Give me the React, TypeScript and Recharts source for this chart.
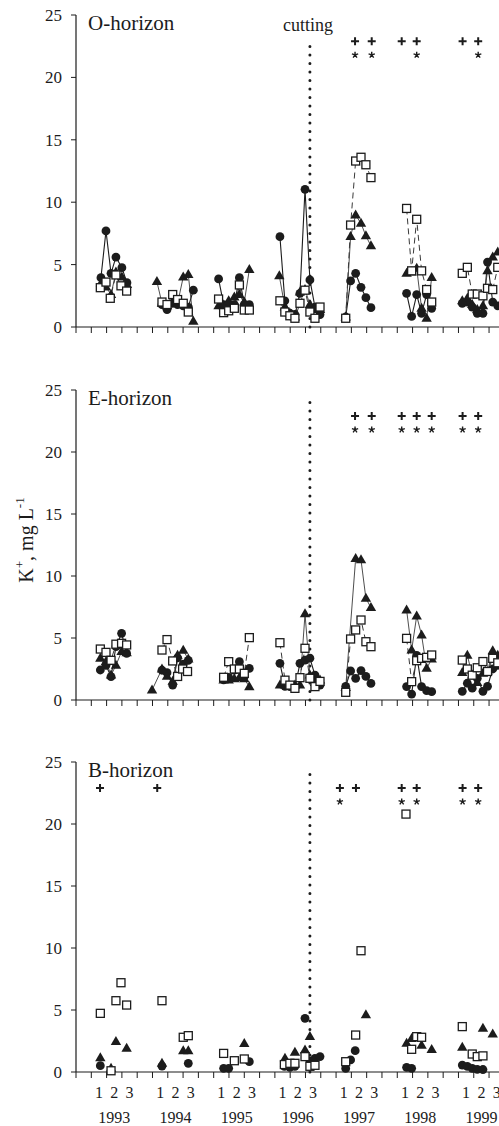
import React from 'react';
import { ComposedChart, Line, Scatter, XAxis, YAxis } from 'recharts';

type Pt = [number, number];

// x = position on the time axis, 4 steps per year starting at Jan 1993
const YEARS = [1993, 1994, 1995, 1996, 1997, 1998, 1999];
const PERIOD_LABELS = ['1', '2', '3'];
const Y_TICKS = [0, 5, 10, 15, 20, 25];
const X_MAX = 27.65;
const CUT_X = 15.29;

// ---- O-horizon ----
const O_CIRCLE: Pt[][] = [
  [[1.63, 3.95], [1.96, 7.7], [2.29, 4.3], [2.61, 5.6], [3.0, 4.75], [3.33, 3.55]],
  [[5.62, 1.8], [5.95, 1.4], [6.32, 1.9], [6.64, 1.8], [7.01, 1.7], [7.34, 1.6], [7.67, 2.95]],
  [[9.32, 3.85], [9.65, 1.8], [9.98, 1.6], [10.35, 1.8], [10.68, 3.95], [11.0, 1.8], [11.33, 1.8]],
  [[13.33, 7.24], [13.65, 2.1], [13.98, 1.1], [14.31, 1.0], [14.64, 2.7], [14.97, 11.03], [15.29, 3.77], [15.62, 1.6], [15.95, 1.0]],
  [[17.63, 0.8], [17.95, 3.69], [18.28, 4.3], [18.63, 3.18], [18.95, 2.35], [19.28, 1.55]],
  [[21.61, 2.7], [21.94, 0.85], [22.27, 2.6], [22.59, 1.1], [22.92, 2.6], [23.25, 1.5]],
  [[25.25, 1.9], [25.58, 2.0], [25.9, 1.6], [26.23, 1.1], [26.6, 1.1], [26.9, 5.2], [27.24, 2.0], [27.57, 1.7]],
];
const O_TRIANGLE: Pt[][] = [
  [[1.63, 3.5], [1.96, 3.2], [2.29, 2.6], [2.61, 4.4], [3.0, 4.0], [3.33, 3.4]],
  [[5.29, 3.63], [5.62, 1.9], [5.95, 1.7], [6.32, 2.0], [6.64, 1.9], [7.01, 4.0], [7.34, 4.2], [7.67, 0.45]],
  [[9.32, 1.7], [9.65, 1.7], [9.98, 2.1], [10.35, 2.4], [10.68, 2.6], [11.0, 2.0], [11.33, 4.6]],
  [[13.29, 4.1], [13.65, 1.6], [13.98, 1.1], [14.31, 0.8], [14.64, 2.8], [14.97, 3.0], [15.29, 1.8], [15.62, 1.4], [15.95, 1.4]],
  [[17.63, 0.8], [17.95, 7.24], [18.28, 8.97], [18.63, 8.3], [18.95, 7.3], [19.28, 6.5]],
  [[21.61, 4.3], [21.94, 4.4], [22.27, 4.7], [22.59, 1.5], [22.92, 0.7], [23.25, 3.95]],
  [[25.25, 2.1], [25.58, 2.3], [25.9, 1.8], [26.23, 1.4], [26.6, 1.7], [26.9, 4.5], [27.24, 5.6], [27.57, 6.0]],
];
const O_SQUARE: Pt[][] = [
  [[1.59, 3.15], [1.96, 3.6], [2.24, 2.3], [2.61, 4.17], [2.94, 3.3], [3.31, 2.88]],
  [[5.62, 2.0], [5.95, 1.8], [6.32, 2.6], [6.64, 2.2], [7.01, 1.9], [7.34, 1.2]],
  [[9.32, 2.24], [9.65, 1.15], [9.98, 1.3], [10.35, 1.5], [10.68, 3.37], [11.0, 1.36], [11.33, 1.36]],
  [[13.33, 2.1], [13.65, 1.2], [13.98, 0.9], [14.31, 0.7], [14.64, 1.9], [14.97, 2.95], [15.29, 1.2], [15.62, 0.7], [15.95, 1.6]],
  [[17.63, 0.7], [17.95, 8.17], [18.28, 13.3], [18.63, 13.6], [18.95, 13.0], [19.28, 11.97]],
  [[21.61, 9.5], [21.94, 4.5], [22.27, 8.63], [22.59, 4.5], [22.92, 3.0], [23.25, 2.0]],
  [[25.25, 4.3], [25.58, 4.78], [25.9, 2.64], [26.23, 2.64], [26.6, 2.5], [26.9, 3.1], [27.24, 3.0], [27.57, 4.78]],
];
const O_PLUS = [18.24, 19.33, 21.29, 22.27, 25.27, 26.29];
const O_STAR = [18.24, 19.33, 22.27, 26.29];

// ---- E-horizon ----
const E_CIRCLE: Pt[][] = [
  [[1.59, 2.42], [1.96, 2.8], [2.29, 1.88], [2.61, 4.3], [2.98, 5.38], [3.31, 3.76]],
  [[5.62, 2.4], [5.95, 2.2], [6.32, 1.2], [6.64, 3.4], [7.01, 2.9], [7.34, 3.2]],
  [[9.65, 1.62], [9.98, 1.83], [10.35, 2.4], [10.68, 3.09], [11.0, 1.9], [11.33, 2.55]],
  [[13.33, 2.96], [13.66, 1.1], [13.98, 1.08], [14.31, 1.0], [14.64, 2.96], [14.97, 3.22], [15.29, 3.37], [15.62, 2.0], [15.95, 1.2]],
  [[17.63, 1.1], [17.95, 2.34], [18.28, 1.75], [18.63, 2.37], [18.95, 1.9], [19.28, 1.34]],
  [[21.61, 1.08], [21.94, 0.48], [22.27, 3.6], [22.59, 1.08], [22.92, 0.75], [23.25, 0.67]],
  [[25.25, 0.7], [25.58, 1.35], [25.9, 0.95], [26.23, 1.75], [26.6, 0.7], [26.9, 1.1], [27.24, 2.5], [27.57, 2.8]],
];
const E_TRIANGLE: Pt[][] = [
  [[1.59, 3.35], [1.96, 3.1], [2.29, 2.0], [2.61, 2.8], [2.98, 3.9], [3.31, 3.8]],
  [[4.97, 0.8], [5.62, 2.5], [5.95, 1.9], [6.32, 1.5], [6.64, 3.6], [7.01, 4.0], [7.34, 3.3]],
  [[9.65, 1.6], [9.98, 1.6], [10.35, 1.7], [10.68, 1.8], [11.0, 1.7], [11.33, 1.07]],
  [[13.33, 1.2], [13.66, 1.2], [13.98, 1.1], [14.31, 1.2], [14.64, 1.2], [14.97, 6.94], [15.29, 2.0], [15.62, 1.4], [15.95, 1.6]],
  [[17.63, 1.0], [18.28, 11.4], [18.63, 11.3], [18.95, 8.2], [19.28, 7.45]],
  [[21.61, 7.26], [21.94, 4.03], [22.27, 6.77], [22.59, 5.24], [22.92, 2.55], [23.25, 3.3]],
  [[25.25, 2.2], [25.58, 3.6], [25.9, 2.0], [26.23, 1.4], [26.6, 2.15], [26.9, 2.3], [27.24, 3.97], [27.57, 3.6]],
];
const E_SQUARE: Pt[][] = [
  [[1.59, 4.11], [1.96, 3.84], [2.29, 3.2], [2.61, 4.5], [2.98, 4.57], [3.31, 4.44]],
  [[5.62, 4.03], [5.95, 4.87], [6.32, 3.15], [6.64, 1.9], [6.97, 2.5], [7.29, 2.3]],
  [[9.65, 1.83], [9.98, 3.09], [10.35, 2.5], [10.68, 2.5], [11.0, 2.15], [11.33, 5.03]],
  [[13.33, 4.62], [13.66, 1.6], [13.98, 1.2], [14.31, 0.94], [14.64, 1.8], [14.97, 4.17], [15.29, 1.75], [15.62, 1.08], [15.95, 1.5]],
  [[17.63, 0.62], [17.95, 4.92], [18.28, 5.65], [18.63, 6.45], [18.95, 4.7], [19.28, 4.3]],
  [[21.61, 4.97], [21.94, 1.48], [22.27, 3.17], [22.59, 3.36], [22.92, 3.44], [23.25, 3.63]],
  [[25.25, 3.22], [25.58, 2.5], [25.9, 2.0], [26.23, 2.6], [26.6, 3.1], [26.9, 2.3], [27.24, 3.36], [27.57, 3.0]],
];
const E_PLUS = [18.24, 19.33, 21.29, 22.27, 23.25, 25.27, 26.29];
const E_STAR = [18.24, 19.33, 21.29, 22.27, 23.25, 25.27, 26.29];

// ---- B-horizon (markers only) ----
const B_CIRCLE: Pt[][] = [
  [[1.59, 0.51]],
  [[5.62, 0.48], [7.34, 0.7]],
  [[9.65, 0.3], [9.98, 0.3], [11.33, 0.83]],
  [[13.62, 0.45], [13.98, 0.38], [14.31, 0.46], [14.97, 4.33], [15.29, 0.9], [15.62, 1.1], [15.95, 1.24]],
  [[17.63, 0.29], [17.95, 0.97], [18.25, 1.72]],
  [[21.61, 0.38], [21.94, 0.3]],
  [[25.25, 0.56], [25.58, 0.46], [25.9, 0.3], [26.23, 0.21], [26.6, 0.2]],
];
const B_TRIANGLE: Pt[][] = [
  [[1.59, 1.15], [2.29, 0.3], [2.61, 2.45], [3.31, 1.9]],
  [[5.62, 0.7], [7.01, 1.7], [7.34, 1.7]],
  [[11.0, 2.3]],
  [[13.66, 1.1], [14.31, 1.59], [14.97, 1.77], [15.29, 2.85]],
  [[18.95, 4.6]],
  [[21.61, 2.31], [21.94, 2.7], [22.59, 2.15], [23.25, 1.8]],
  [[25.25, 1.99], [26.6, 3.52], [27.24, 3.06]],
];
const B_SQUARE: Pt[][] = [
  [[1.59, 4.73], [2.29, 0.1], [2.61, 5.75], [2.94, 7.2], [3.31, 5.4]],
  [[5.62, 5.75], [7.01, 2.8], [7.34, 2.93]],
  [[9.65, 1.5], [10.35, 0.91], [11.0, 1.05]],
  [[13.62, 0.6], [13.98, 0.7], [14.31, 0.7], [14.97, 1.24], [15.29, 0.46], [15.62, 0.54]],
  [[17.63, 0.83], [18.28, 2.98], [18.63, 9.78]],
  [[21.57, 20.8], [21.94, 1.83], [22.27, 2.85], [22.59, 2.8]],
  [[25.25, 3.66], [25.9, 1.45], [26.23, 1.24], [26.6, 1.3]],
];
const B_PLUS = [1.57, 5.31, 17.25, 18.3, 21.29, 22.27, 25.27, 26.29];
const B_STAR = [17.25, 21.29, 22.27, 25.27, 26.29];

const PLUS_Y = 22.9;
const STAR_Y = 21.8;

const INK = '#1c1c1c';
const LINE_INK = '#3a3a3a';
const FONT = '"Liberation Serif", "Times New Roman", serif';
const MT = 10;

const PANELS = [
  { title: 'O-horizon', top: 15, h: 312, circle: O_CIRCLE, triangle: O_TRIANGLE, square: O_SQUARE, lines: true, plus: O_PLUS, star: O_STAR, cutTop: 22.5, labelled: false },
  { title: 'E-horizon', top: 390, h: 310, circle: E_CIRCLE, triangle: E_TRIANGLE, square: E_SQUARE, lines: true, plus: E_PLUS, star: E_STAR, cutTop: 24.4, labelled: false },
  { title: 'B-horizon', top: 762, h: 310, circle: B_CIRCLE, triangle: B_TRIANGLE, square: B_SQUARE, lines: false, plus: B_PLUS, star: B_STAR, cutTop: 24.4, labelled: true },
];

const X_TICKS = Array.from({ length: 56 }, (_, i) => i / 2);

// year groups -> rows, with a null row between years so lines break
const toRows = (groups: Pt[][]) =>
  groups.flatMap((g, i) => {
    const rows: { k: number; v: number | null }[] = g.map(([k, v]) => ({ k, v }));
    if (i < groups.length - 1) rows.push({ k: (g[g.length - 1][0] + groups[i + 1][0][0]) / 2, v: null });
    return rows;
  });

function Marker({ cx, cy, kind, empty }: any) {
  if (empty || cx == null || cy == null || Number.isNaN(cy)) return <g />;
  if (kind === 'circle') return <circle cx={cx} cy={cy} r={4.4} fill={INK} />;
  if (kind === 'triangle')
    return <path d={`M${cx},${cy - 5.6}L${cx + 5.2},${cy + 3.4}L${cx - 5.2},${cy + 3.4}Z`} fill={INK} />;
  return <rect x={cx - 4} y={cy - 4} width={8} height={8} fill="#fff" stroke={INK} strokeWidth={1.3} />;
}

function PlusShape({ cx, cy }: any) {
  return <path d={`M${cx - 4},${cy}H${cx + 4}M${cx},${cy - 4}V${cy + 4}`} stroke={INK} strokeWidth={2} />;
}

function StarShape({ cx, cy }: any) {
  const arms = [-90, -18, 54, 126, 198].map((a) => {
    const r = (a * Math.PI) / 180;
    return `M${cx},${cy}L${cx + 3.3 * Math.cos(r)},${cy + 3.3 * Math.sin(r)}`;
  });
  return <path d={arms.join('')} stroke={INK} strokeWidth={1.4} />;
}

function XTick({ x, y, payload, labelled }: any) {
  const k = payload.value;
  if (Number.isInteger(k)) return <line x1={x} x2={x} y1={y} y2={y + 6} stroke={INK} strokeWidth={1} />;
  if (!labelled) return <g />;
  const idx = Math.round((k % 4) - 1.5);
  if (idx < 0) return <g />;
  const year = YEARS[Math.floor(k / 4)];
  return (
    <g fontFamily={FONT} fontSize={16} fill={INK} textAnchor="middle">
      <text x={x} y={y + 26}>{PERIOD_LABELS[idx]}</text>
      {idx === 1 && <text x={x} y={y + 51}>{year}</text>}
    </g>
  );
}

const SERIES = [
  { kind: 'circle', stroke: INK, width: 1.1, dash: undefined },
  { kind: 'triangle', stroke: LINE_INK, width: 0.9, dash: undefined },
  { kind: 'square', stroke: LINE_INK, width: 1, dash: '6 4' },
] as const;

function Panel({ p }: any) {
  const xh = p.labelled ? 54 : 12;
  const cut = [{ k: CUT_X, v: 0 }, { k: CUT_X, v: p.cutTop }];
  return (
    <div style={{ position: 'absolute', left: 0, top: p.top - MT }}>
      <ComposedChart width={499} height={MT + p.h + xh} margin={{ top: MT, right: 0, bottom: 0, left: 0 }}>
        <XAxis
          type="number"
          dataKey="k"
          domain={[0, X_MAX]}
          ticks={X_TICKS}
          interval={0}
          height={xh}
          tickSize={0}
          tickMargin={0}
          tickLine={false}
          axisLine={{ stroke: INK, strokeWidth: 1.2 }}
          tick={(t: any) => <XTick key={t.index} {...t} labelled={p.labelled} />}
        />
        <YAxis
          type="number"
          dataKey="v"
          domain={[0, 25]}
          ticks={Y_TICKS}
          width={76}
          tickSize={5}
          tickMargin={9}
          axisLine={{ stroke: INK, strokeWidth: 1.2 }}
          tickLine={{ stroke: INK }}
          tick={{ fill: INK, fontSize: 17, fontFamily: FONT }}
        />
        <Line
          data={cut}
          dataKey="v"
          stroke={INK}
          strokeWidth={3}
          strokeDasharray="0.1 8.4"
          strokeLinecap="round"
          dot={false}
          activeDot={false}
          isAnimationActive={false}
        />
        {SERIES.map((s) => (
          <Line
            key={s.kind}
            data={toRows(p[s.kind])}
            dataKey="v"
            type="linear"
            stroke={p.lines ? s.stroke : 'none'}
            strokeWidth={s.width}
            strokeDasharray={s.dash}
            dot={(d: any) => (
              <Marker key={d.index} cx={d.cx} cy={d.cy} kind={s.kind} empty={d.payload?.v == null} />
            )}
            activeDot={false}
            isAnimationActive={false}
          />
        ))}
        <Scatter data={p.plus.map((k: number) => ({ k, v: PLUS_Y }))} dataKey="v" shape={<PlusShape />} isAnimationActive={false} />
        <Scatter data={p.star.map((k: number) => ({ k, v: STAR_Y }))} dataKey="v" shape={<StarShape />} isAnimationActive={false} />
      </ComposedChart>
    </div>
  );
}

export default function App() {
  return (
    <div style={{ position: 'absolute', left: 0, top: 0, width: 499, height: 1126, background: '#fff', overflow: 'hidden' }}>
      {PANELS.map((p) => (
        <Panel key={p.title} p={p} />
      ))}
      <svg width={499} height={1126} style={{ position: 'absolute', left: 0, top: 0, pointerEvents: 'none' }}>
        <g fontFamily={FONT} fill={INK}>
          {PANELS.map((p) => (
            <text key={p.title} x={88} y={p.top + 15} fontSize={21}>{p.title}</text>
          ))}
          <text x={308} y={31} fontSize={18} textAnchor="middle">cutting</text>
          <text x={33} y={540} fontSize={20} textAnchor="middle" transform="rotate(-90 33 540)">
            K<tspan fontSize={13} dy={-9}>+</tspan>
            <tspan dy={9}>, mg L</tspan>
            <tspan fontSize={13} dy={-9}>-1</tspan>
          </text>
        </g>
      </svg>
    </div>
  );
}
